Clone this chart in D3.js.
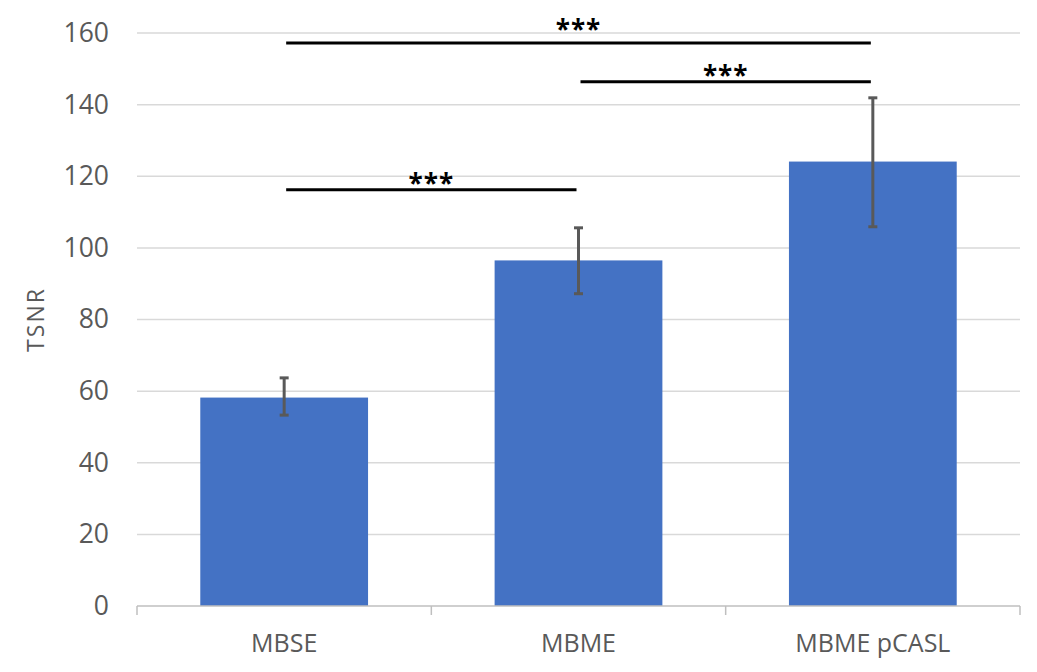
<!DOCTYPE html>
<html lang="en">
<head>
<meta charset="UTF-8">
<title>TSNR</title>
<script src="https://d3js.org/d3.v7.min.js"></script>
<style>
  body { margin: 0; background: #fff; }
  svg text { font-family: "Open Sans", sans-serif; }
</style>
</head>
<body>
<svg id="chart" width="1037" height="672"></svg>
<script>
// data
const categories = ["MBSE", "MBME", "MBME pCASL"];
const tsnr = [58.2, 96.5, 124.1];
const errLow = [53.3, 87.2, 105.9];
const errHigh = [63.7, 105.6, 141.9];
const yTicks = [0, 20, 40, 60, 80, 100, 120, 140, 160];

// significance brackets
const sigFrom = ["MBSE", "MBME", "MBSE"];
const sigTo = ["MBME pCASL", "MBME pCASL", "MBME"];
const sigLevel = [157.2, 146.4, 116.2];
const sigStarLevel = [162.3, 149.6, 119.3];
const sigLabel = ["***", "***", "***"];

const svg = d3.select("#chart");
const mLeft = 137, mRight = 1020, mTop = 33, mBottom = 606;

const x = d3.scaleBand().domain(categories).range([mLeft, mRight]).padding(0);
const y = d3.scaleLinear().domain([0, 160]).range([mBottom, mTop]);
const barW = x.bandwidth() * 0.57;
const cx = d => x(d) + x.bandwidth() / 2;

// gridlines
svg.append("g")
    .selectAll("line")
    .data(yTicks.filter(d => d > 0))
    .join("line")
    .attr("x1", mLeft).attr("x2", mRight)
    .attr("y1", d => y(d)).attr("y2", d => y(d))
    .attr("stroke", "#d9d9d9").attr("stroke-width", 1.5);

// y axis labels
const yAxis = d3.axisLeft(y).tickValues(yTicks).tickSize(0).tickPadding(28);
svg.append("g")
    .attr("transform", `translate(${mLeft},0)`)
    .call(yAxis)
    .call(g => g.select(".domain").remove())
    .call(g => g.selectAll("text")
        .attr("font-size", 26.5)
        .attr("fill", "#595959")
        .attr("font-family", "Open Sans, sans-serif"));

// bars
svg.append("g")
    .selectAll("rect")
    .data(categories)
    .join("rect")
    .attr("x", d => cx(d) - barW / 2)
    .attr("width", barW)
    .attr("y", (d, i) => y(tsnr[i]))
    .attr("height", (d, i) => y(0) - y(tsnr[i]))
    .attr("fill", "#4472c4");

// x axis
const xAxis = d3.axisBottom(x).tickSize(0).tickPadding(28);
const gx = svg.append("g")
    .attr("transform", `translate(0,${mBottom})`)
    .call(xAxis);
gx.select(".domain").attr("stroke", "#bfbfbf").attr("stroke-width", 1.5).attr("d", `M${mLeft},0H${mRight}`);
gx.selectAll("text")
    .attr("font-size", 25)
    .attr("fill", "#595959")
    .attr("font-family", "Open Sans, sans-serif");
// boundary ticks
gx.append("g")
    .selectAll("line")
    .data(d3.range(categories.length + 1))
    .join("line")
    .attr("x1", i => mLeft + i * x.step()).attr("x2", i => mLeft + i * x.step())
    .attr("y1", 0).attr("y2", 9)
    .attr("stroke", "#bfbfbf").attr("stroke-width", 1.5);

// error bars
const err = svg.append("g").attr("stroke", "#595959").attr("stroke-width", 3);
categories.forEach((c, i) => {
    err.append("line")
        .attr("x1", cx(c)).attr("x2", cx(c))
        .attr("y1", y(errLow[i])).attr("y2", y(errHigh[i]));
    [errLow[i], errHigh[i]].forEach(v => {
        err.append("line")
            .attr("x1", cx(c) - 4.5).attr("x2", cx(c) + 4.5)
            .attr("y1", y(v)).attr("y2", y(v));
    });
});

// significance lines
const sig = svg.append("g");
sigLevel.forEach((lv, i) => {
    const x1 = cx(sigFrom[i]) + 2, x2 = cx(sigTo[i]) - 2;
    sig.append("line")
        .attr("x1", x1).attr("x2", x2)
        .attr("y1", y(lv)).attr("y2", y(lv))
        .attr("stroke", "#000").attr("stroke-width", 3);
    sig.append("text")
        .attr("x", (x1 + x2) / 2)
        .attr("y", y(sigStarLevel[i]))
        .attr("text-anchor", "middle")
        .attr("dy", "0.56em")
        .attr("font-size", 26)
        .attr("font-weight", "bold")
        .attr("font-family", "DejaVu Sans, sans-serif")
        .attr("letter-spacing", 1)
        .attr("fill", "#000")
        .text(sigLabel[i]);
});

// y label
svg.append("text")
    .attr("transform", `translate(44,${(mTop + mBottom) / 2}) rotate(-90)`)
    .attr("text-anchor", "middle")
    .attr("font-size", 23)
    .attr("letter-spacing", 2)
    .attr("fill", "#595959")
    .text("TSNR");
</script>
</body>
</html>
